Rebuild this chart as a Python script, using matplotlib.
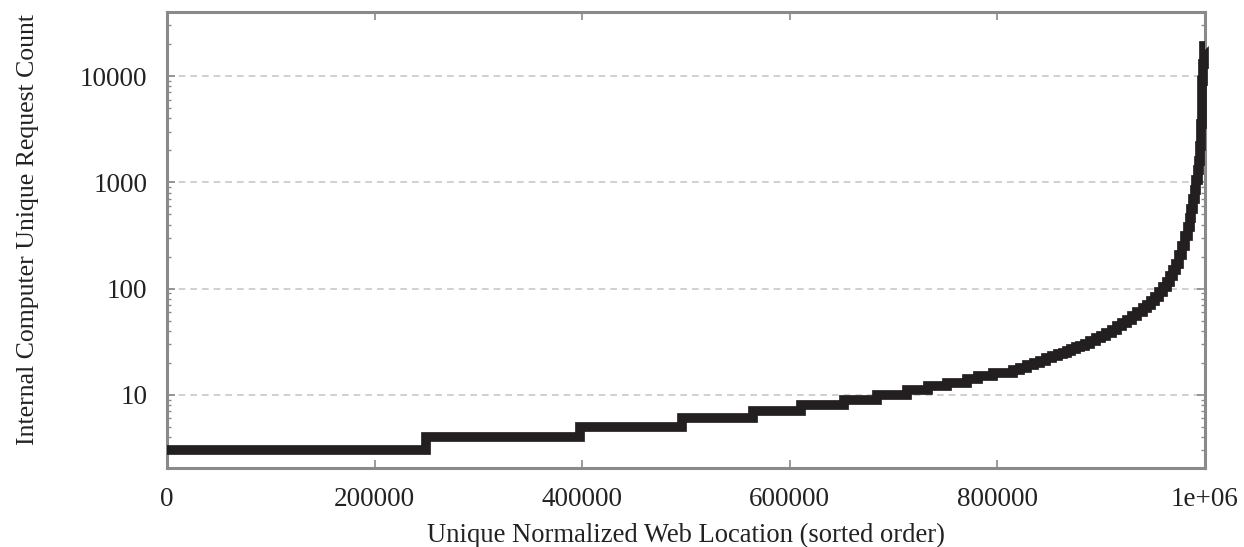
import matplotlib
matplotlib.use("Agg")
import matplotlib.pyplot as plt
from matplotlib.ticker import FixedLocator, LogLocator, NullFormatter

# sorted position where each count level starts, and the count there
positions = [0, 250000, 398000, 496000, 564500, 610800, 652200, 684000,
             713000, 733000, 751400, 770700, 781300, 795800, 815000,
             822000, 829000, 835000, 841000, 847000, 853000, 858000,
             863000, 867000, 871000, 876000, 880000, 884000, 889000,
             895000, 900000, 905000, 910000, 915000, 920000, 925000,
             930000, 935000, 940000, 944000, 948000, 952000, 956000,
             960000, 963000, 966000, 969000, 972000, 975000, 978000,
             981000, 983500, 985500, 987000, 988500, 990000, 991500,
             993000, 994500, 995500, 996200, 996800, 997500, 998300,
             999200, 1000000]
counts = [3, 4, 5, 6, 7, 8, 9, 10,
          11, 12, 13, 14, 15, 16, 17,
          18, 19, 20, 21, 22, 23, 24,
          25, 26, 27, 28, 29, 30, 32,
          34, 36, 38, 41, 44, 47, 51,
          55, 60, 65, 70, 76, 84, 93,
          104, 115, 130, 148, 172, 205, 250,
          310, 380, 460, 560, 690, 850, 1050,
          1300, 1600, 2200, 3500, 6000, 9000, 13000,
          19000, 19000]

x_ticks = [0, 200000, 400000, 600000, 800000, 1000000]
x_labels = ['0', '200000', '400000', '600000', '800000', '1e+06']
y_ticks = [10, 100, 1000, 10000]
y_labels = ['10', '100', '1000', '10000']

plt.rcParams['font.family'] = ['Liberation Serif', 'DejaVu Serif']
axis_grey = '#8a8a8a'
text_col = '#222222'

fig = plt.figure(figsize=(12.44, 5.47), dpi=100)
ax = fig.add_axes([0.1342, 0.1444, 0.8344, 0.8336])

ax.plot(positions, counts, drawstyle='steps-post', color='#231f20',
        linewidth=7, solid_capstyle='butt', solid_joinstyle='miter',
        clip_on=False, zorder=3)

ax.set_yscale('log')
ax.set_xlim(0, 1000000)
ax.set_ylim(2.05, 40000)

ax.xaxis.set_major_locator(FixedLocator(x_ticks))
ax.set_xticklabels(x_labels)
ax.yaxis.set_major_locator(FixedLocator(y_ticks))
ax.set_yticklabels(y_labels)
ax.yaxis.set_minor_locator(LogLocator(base=10, subs=range(2, 10)))
ax.yaxis.set_minor_formatter(NullFormatter())

ax.tick_params(axis='both', which='major', direction='in', top=True,
               right=True, length=6, width=1.2, color=axis_grey,
               labelsize=19.5, labelcolor=text_col, pad=14)
ax.tick_params(axis='y', which='minor', direction='in', right=True,
               left=True, length=3, width=1, color=axis_grey)

for s in ax.spines.values():
    s.set_color(axis_grey)
    s.set_linewidth(2.2)

ax.grid(True, axis='y', which='major', linestyle=(0, (4, 3)),
        color='#c8c8c8', linewidth=1.2)

ax.set_xlabel('Unique Normalized Web Location (sorted order)', fontsize=19.2,
              color=text_col, va='top')
ax.set_ylabel('Internal Computer Unique Request Count', fontsize=18.5,
              color=text_col)
ax.xaxis.set_label_coords(0.5, -0.121)
ax.yaxis.set_label_coords(-0.123, 0.522)

plt.savefig('out.png', dpi=100)
